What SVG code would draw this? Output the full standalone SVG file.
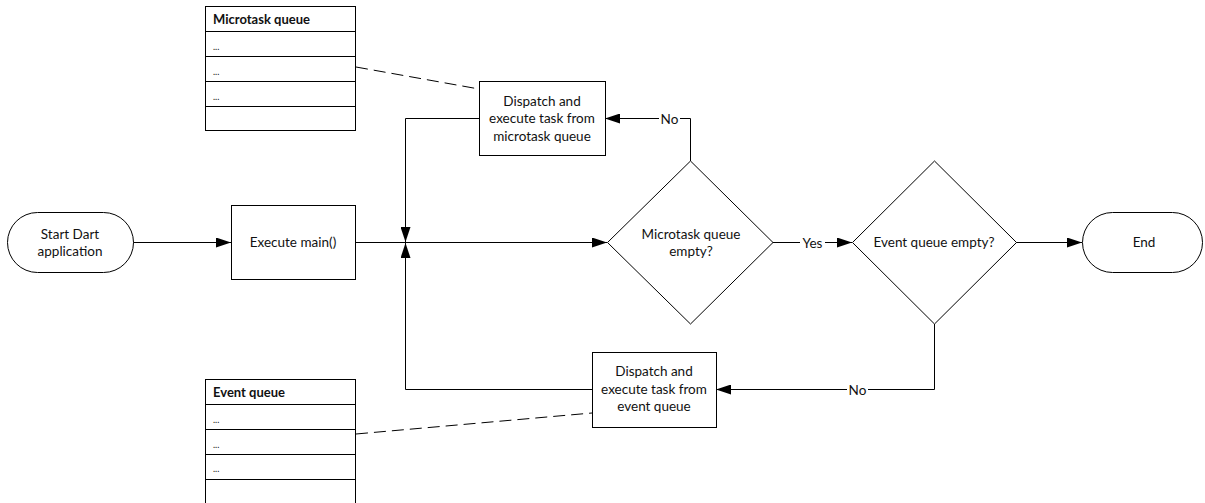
<svg xmlns="http://www.w3.org/2000/svg" width="1205" height="503" viewBox="0 0 1205 503">
<style>
.s{fill:#fff;stroke:#000;stroke-width:1}
.c{fill:none;stroke:#000;stroke-width:1}
.d{fill:none;stroke:#000;stroke-width:1;stroke-dasharray:12,6}
text{font-family:Lato,"Open Sans",sans-serif;font-size:13.5px;fill:#111}
.m{text-anchor:middle}
.h{font-weight:bold;font-size:13px}
.e{font-size:9px}
.lb{text-anchor:middle;dominant-baseline:central}
</style>
<defs>
<marker id="a" markerUnits="userSpaceOnUse" markerWidth="16" markerHeight="10" refX="15" refY="5" orient="auto" viewBox="0 0 16 10">
<path d="M0,0 L15,5 L0,10 Z" fill="#000"/>
</marker>
</defs>
<rect width="1205" height="503" fill="#fff"/>
<g id="connectors">
<path class="c" d="M133,242.5 H231" marker-end="url(#a)"/>
<path class="c" d="M355,242.5 H607" marker-end="url(#a)"/>
<path class="c" d="M479,118.5 H405.5 V242" marker-end="url(#a)"/>
<path class="c" d="M592,389.5 H405.5 V243" marker-end="url(#a)"/>
<path class="c" d="M690.5,161 V118.5 H605" marker-end="url(#a)"/>
<path class="c" d="M773,242.5 H852" marker-end="url(#a)"/>
<path class="c" d="M1016,242.5 H1082" marker-end="url(#a)"/>
<path class="c" d="M934.5,324 V389.5 H716" marker-end="url(#a)"/>
<path class="d" d="M356,67 L479,89"/>
<path class="d" d="M356,434 L592,413"/>
<rect x="659" y="111" width="21" height="15" fill="#fff"/>
<text class="lb" x="669.5" y="119">No</text>
<rect x="800" y="235" width="25" height="15" fill="#fff"/>
<text class="lb" x="812.5" y="243">Yes</text>
<rect x="847" y="382" width="21" height="15" fill="#fff"/>
<text class="lb" x="857.5" y="390">No</text>
</g>
<g id="microtask-queue">
<rect class="s" x="205.5" y="6.5" width="150" height="124"/>
<path class="c" d="M205.5,31.5 H355.5 M205.5,56.5 H355.5 M205.5,81.5 H355.5 M205.5,106.5 H355.5"/>
<text class="h" x="213" y="24">Microtask queue</text>
<text class="e" x="213" y="50">...</text>
<text class="e" x="213" y="75">...</text>
<text class="e" x="213" y="100">...</text>
</g>
<g id="event-queue">
<rect class="s" x="205.5" y="379.5" width="150" height="126"/>
<path class="c" d="M205.5,404.5 H355.5 M205.5,429.5 H355.5 M205.5,454.5 H355.5 M205.5,479.5 H355.5"/>
<text class="h" x="213" y="397">Event queue</text>
<text class="e" x="213" y="423">...</text>
<text class="e" x="213" y="448">...</text>
<text class="e" x="213" y="472">...</text>
</g>
<g id="start">
<rect class="s" x="7.5" y="212.5" width="126" height="60" rx="30" ry="30"/>
<text class="m" x="70" y="239">Start Dart</text>
<text class="m" x="70" y="256">application</text>
</g>
<g id="execute-main">
<rect class="s" x="231.5" y="205.5" width="124" height="74"/>
<text class="m" x="293" y="247">Execute main()</text>
</g>
<g id="dispatch-microtask">
<rect class="s" x="479.5" y="81.5" width="126" height="74"/>
<text class="m" x="542" y="106">Dispatch and</text>
<text class="m" x="542" y="123">execute task from</text>
<text class="m" x="542" y="141">microtask queue</text>
</g>
<g id="microtask-empty">
<path class="s" d="M690.5,161 L773,242.5 L690.5,324 L607.5,242.5 Z"/>
<text class="m" x="691" y="239">Microtask queue</text>
<text class="m" x="691" y="256">empty?</text>
</g>
<g id="event-empty">
<path class="s" d="M934.5,161 L1016.5,242.5 L934.5,324 L852.5,242.5 Z"/>
<text class="m" x="934" y="247">Event queue empty?</text>
</g>
<g id="end">
<rect class="s" x="1082.5" y="212.5" width="120" height="60" rx="30" ry="30"/>
<text class="m" x="1144" y="247">End</text>
</g>
<g id="dispatch-event">
<rect class="s" x="592.5" y="352.5" width="124" height="75"/>
<text class="m" x="654" y="376">Dispatch and</text>
<text class="m" x="654" y="394">execute task from</text>
<text class="m" x="654" y="411">event queue</text>
</g>
</svg>
